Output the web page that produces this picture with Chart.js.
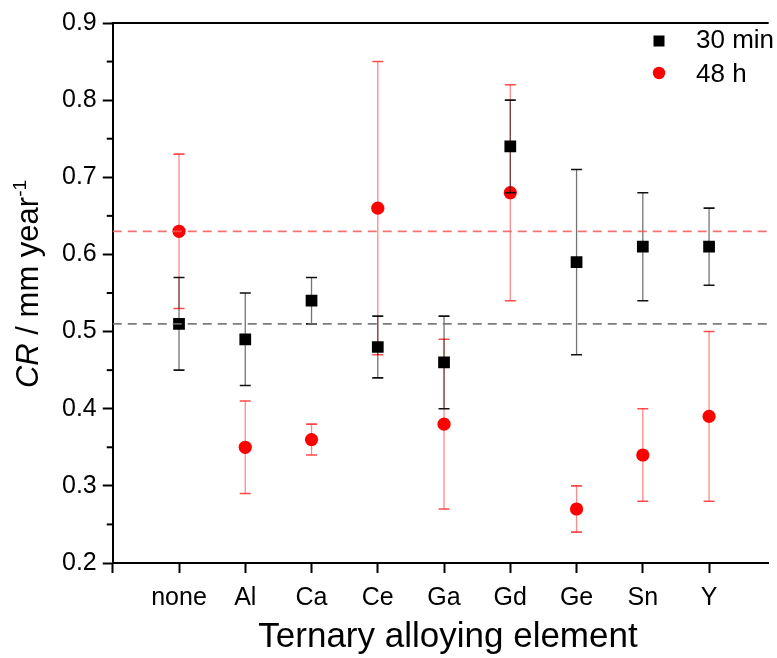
<!DOCTYPE html>
<html lang="en">
<head>
<meta charset="UTF-8">
<title>Corrosion rate by ternary alloying element</title>
<script src="https://cdn.jsdelivr.net/npm/chart.js"></script>
<style>
    body { margin: 0; background: #ffffff; }
    #wrap { width: 777px; height: 658px; }
</style>
</head>
<body>
<div id="wrap"><canvas id="crChart" width="777" height="658"></canvas></div>
<script>
// values
const categories = ['none', 'Al', 'Ca', 'Ce', 'Ga', 'Gd', 'Ge', 'Sn', 'Y'];

const cr30min     = [0.51, 0.49, 0.54, 0.48, 0.46, 0.74, 0.59, 0.61, 0.61];
const cr30minLow  = [0.45, 0.43, 0.51, 0.44, 0.40, 0.68, 0.47, 0.54, 0.56];
const cr30minHigh = [0.57, 0.55, 0.57, 0.52, 0.52, 0.80, 0.71, 0.68, 0.66];

const cr48h     = [0.63, 0.35, 0.36, 0.66, 0.38, 0.68, 0.27, 0.34, 0.39];
const cr48hLow  = [0.53, 0.29, 0.34, 0.47, 0.27, 0.54, 0.24, 0.28, 0.28];
const cr48hHigh = [0.73, 0.41, 0.38, 0.85, 0.49, 0.82, 0.30, 0.40, 0.50];

// dashed reference lines (value for "none")
const refLines = [
    { value: 0.63, color: 'rgba(240, 90, 90, 0.85)' },
    { value: 0.51, color: 'rgba(110, 110, 110, 0.9)' }
];

const yTicks = [0.2, 0.3, 0.4, 0.5, 0.6, 0.7, 0.8, 0.9];

const FONT = "'Liberation Sans', Arial, sans-serif";

function toPoints(vals, lows, highs) {
    return vals.map((v, i) => ({ x: i, y: v, lo: lows[i], hi: highs[i] }));
}

// error bars, drawn just before each dataset so markers sit on top
const errorBars = {
    id: 'errorBars',
    beforeDatasetDraw(chart, args) {
        const ds = chart.data.datasets[args.index];
        const xs = chart.scales.x, ys = chart.scales.y;
        const c = chart.ctx;
        c.save();
        ds.data.forEach(p => {
            const px = xs.getPixelForValue(p.x);
            const top = ys.getPixelForValue(p.hi);
            const bot = ys.getPixelForValue(p.lo);
            c.strokeStyle = ds.errLine;
            c.lineWidth = 1.3;
            c.beginPath();
            c.moveTo(px, top);
            c.lineTo(px, bot);
            c.stroke();
            c.strokeStyle = ds.errCap;
            c.lineWidth = 1.6;
            c.beginPath();
            c.moveTo(px - 5.5, top); c.lineTo(px + 5.5, top);
            c.moveTo(px - 5.5, bot); c.lineTo(px + 5.5, bot);
            c.stroke();
        });
        c.restore();
    }
};

const decorations = {
    id: 'decorations',
    afterDatasetsDraw(chart) {
        const c = chart.ctx;
        const area = chart.chartArea;
        const ys = chart.scales.y;
        c.save();
        c.lineWidth = 1.8;
        c.setLineDash([9, 6]);
        refLines.forEach(r => {
            const py = ys.getPixelForValue(r.value);
            c.strokeStyle = r.color;
            c.beginPath();
            c.moveTo(area.left, py);
            c.lineTo(area.right, py);
            c.stroke();
        });
        c.restore();
    },
    afterDraw(chart) {
        const c = chart.ctx;
        const area = chart.chartArea;
        const ys = chart.scales.y;
        c.save();

        // top frame
        c.strokeStyle = '#000';
        c.lineWidth = 2;
        c.beginPath();
        c.moveTo(area.left - 1, area.top);
        c.lineTo(area.right, area.top);
        c.stroke();

        // minor y ticks
        c.lineWidth = 2;
        for (let i = 0; i < yTicks.length - 1; i++) {
            const py = ys.getPixelForValue((yTicks[i] + yTicks[i + 1]) / 2);
            c.beginPath();
            c.moveTo(area.left - 6, py);
            c.lineTo(area.left, py);
            c.stroke();
        }

        // legend
        const lx = 659;
        c.fillStyle = '#000';
        c.fillRect(lx - 5.5, 35.5, 11, 11);
        c.fillStyle = '#ff0000';
        c.beginPath();
        c.arc(lx, 73, 6.2, 0, Math.PI * 2);
        c.fill();
        c.fillStyle = '#000';
        c.font = '26px ' + FONT;
        c.textAlign = 'left';
        c.textBaseline = 'alphabetic';
        c.fillText(chart.data.datasets[0].label, 696, 48);
        c.fillText(chart.data.datasets[1].label, 696, 82);

        // x title
        c.font = '35px ' + FONT;
        c.textAlign = 'center';
        c.fillText('Ternary alloying element', 448, 647);

        // y title: italic CR, superscript -1
        c.translate(38, 284);
        c.rotate(-Math.PI / 2);
        const parts = [
            { t: 'CR', f: 'italic 31px ' + FONT, dy: 0 },
            { t: ' / mm year', f: '31px ' + FONT, dy: 0 },
            { t: '-1', f: '19px ' + FONT, dy: -12 }
        ];
        let total = 0;
        parts.forEach(p => { c.font = p.f; p.w = c.measureText(p.t).width; total += p.w; });
        let x = -total / 2;
        c.textAlign = 'left';
        parts.forEach(p => {
            c.font = p.f;
            c.fillText(p.t, x, p.dy);
            x += p.w;
        });
        c.restore();
    }
};

const ctx = document.getElementById('crChart').getContext('2d');
new Chart(ctx, {
    type: 'scatter',
    data: {
        datasets: [
            {
                label: '30 min',
                data: toPoints(cr30min, cr30minLow, cr30minHigh),
                pointStyle: 'rect',
                pointRadius: 8.3,
                pointHoverRadius: 8.3,
                backgroundColor: '#000000',
                borderColor: '#000000',
                borderWidth: 0,
                errLine: 'rgba(0, 0, 0, 0.55)',
                errCap: '#111111'
            },
            {
                label: '48 h',
                data: toPoints(cr48h, cr48hLow, cr48hHigh),
                pointStyle: 'circle',
                pointRadius: 6.6,
                pointHoverRadius: 6.6,
                backgroundColor: '#ff0000',
                borderColor: '#ff0000',
                borderWidth: 0,
                errLine: 'rgba(255, 40, 40, 0.55)',
                errCap: 'rgba(255, 30, 30, 0.8)'
            }
        ]
    },
    options: {
        responsive: false,
        animation: false,
        layout: { padding: { left: 56, right: 0, top: 23, bottom: 35 } },
        plugins: {
            legend: { display: false },
            tooltip: { enabled: false }
        },
        scales: {
            x: {
                type: 'linear',
                min: -1,
                max: 8.9,
                afterBuildTicks: axis => {
                    axis.ticks = categories.map((_, i) => ({ value: i })).concat([{ value: -1 }]).sort((a, b) => a.value - b.value);
                },
                ticks: {
                    autoSkip: false,
                    maxRotation: 0,
                    padding: 10,
                    color: '#000',
                    font: { family: FONT, size: 25 },
                    callback: v => categories[v] !== undefined ? categories[v] : ''
                },
                grid: { drawOnChartArea: false, tickLength: 10, tickWidth: 2, tickColor: '#000' },
                border: { display: true, color: '#000', width: 2 }
            },
            y: {
                min: 0.2,
                max: 0.9,
                afterBuildTicks: axis => {
                    axis.ticks = yTicks.map(v => ({ value: v }));
                },
                ticks: {
                    padding: 6,
                    color: '#000',
                    font: { family: FONT, size: 25 },
                    callback: v => v.toFixed(1)
                },
                grid: { drawOnChartArea: false, tickLength: 10, tickWidth: 2, tickColor: '#000' },
                border: { display: true, color: '#000', width: 2 }
            }
        }
    },
    plugins: [errorBars, decorations]
});
</script>
</body>
</html>
